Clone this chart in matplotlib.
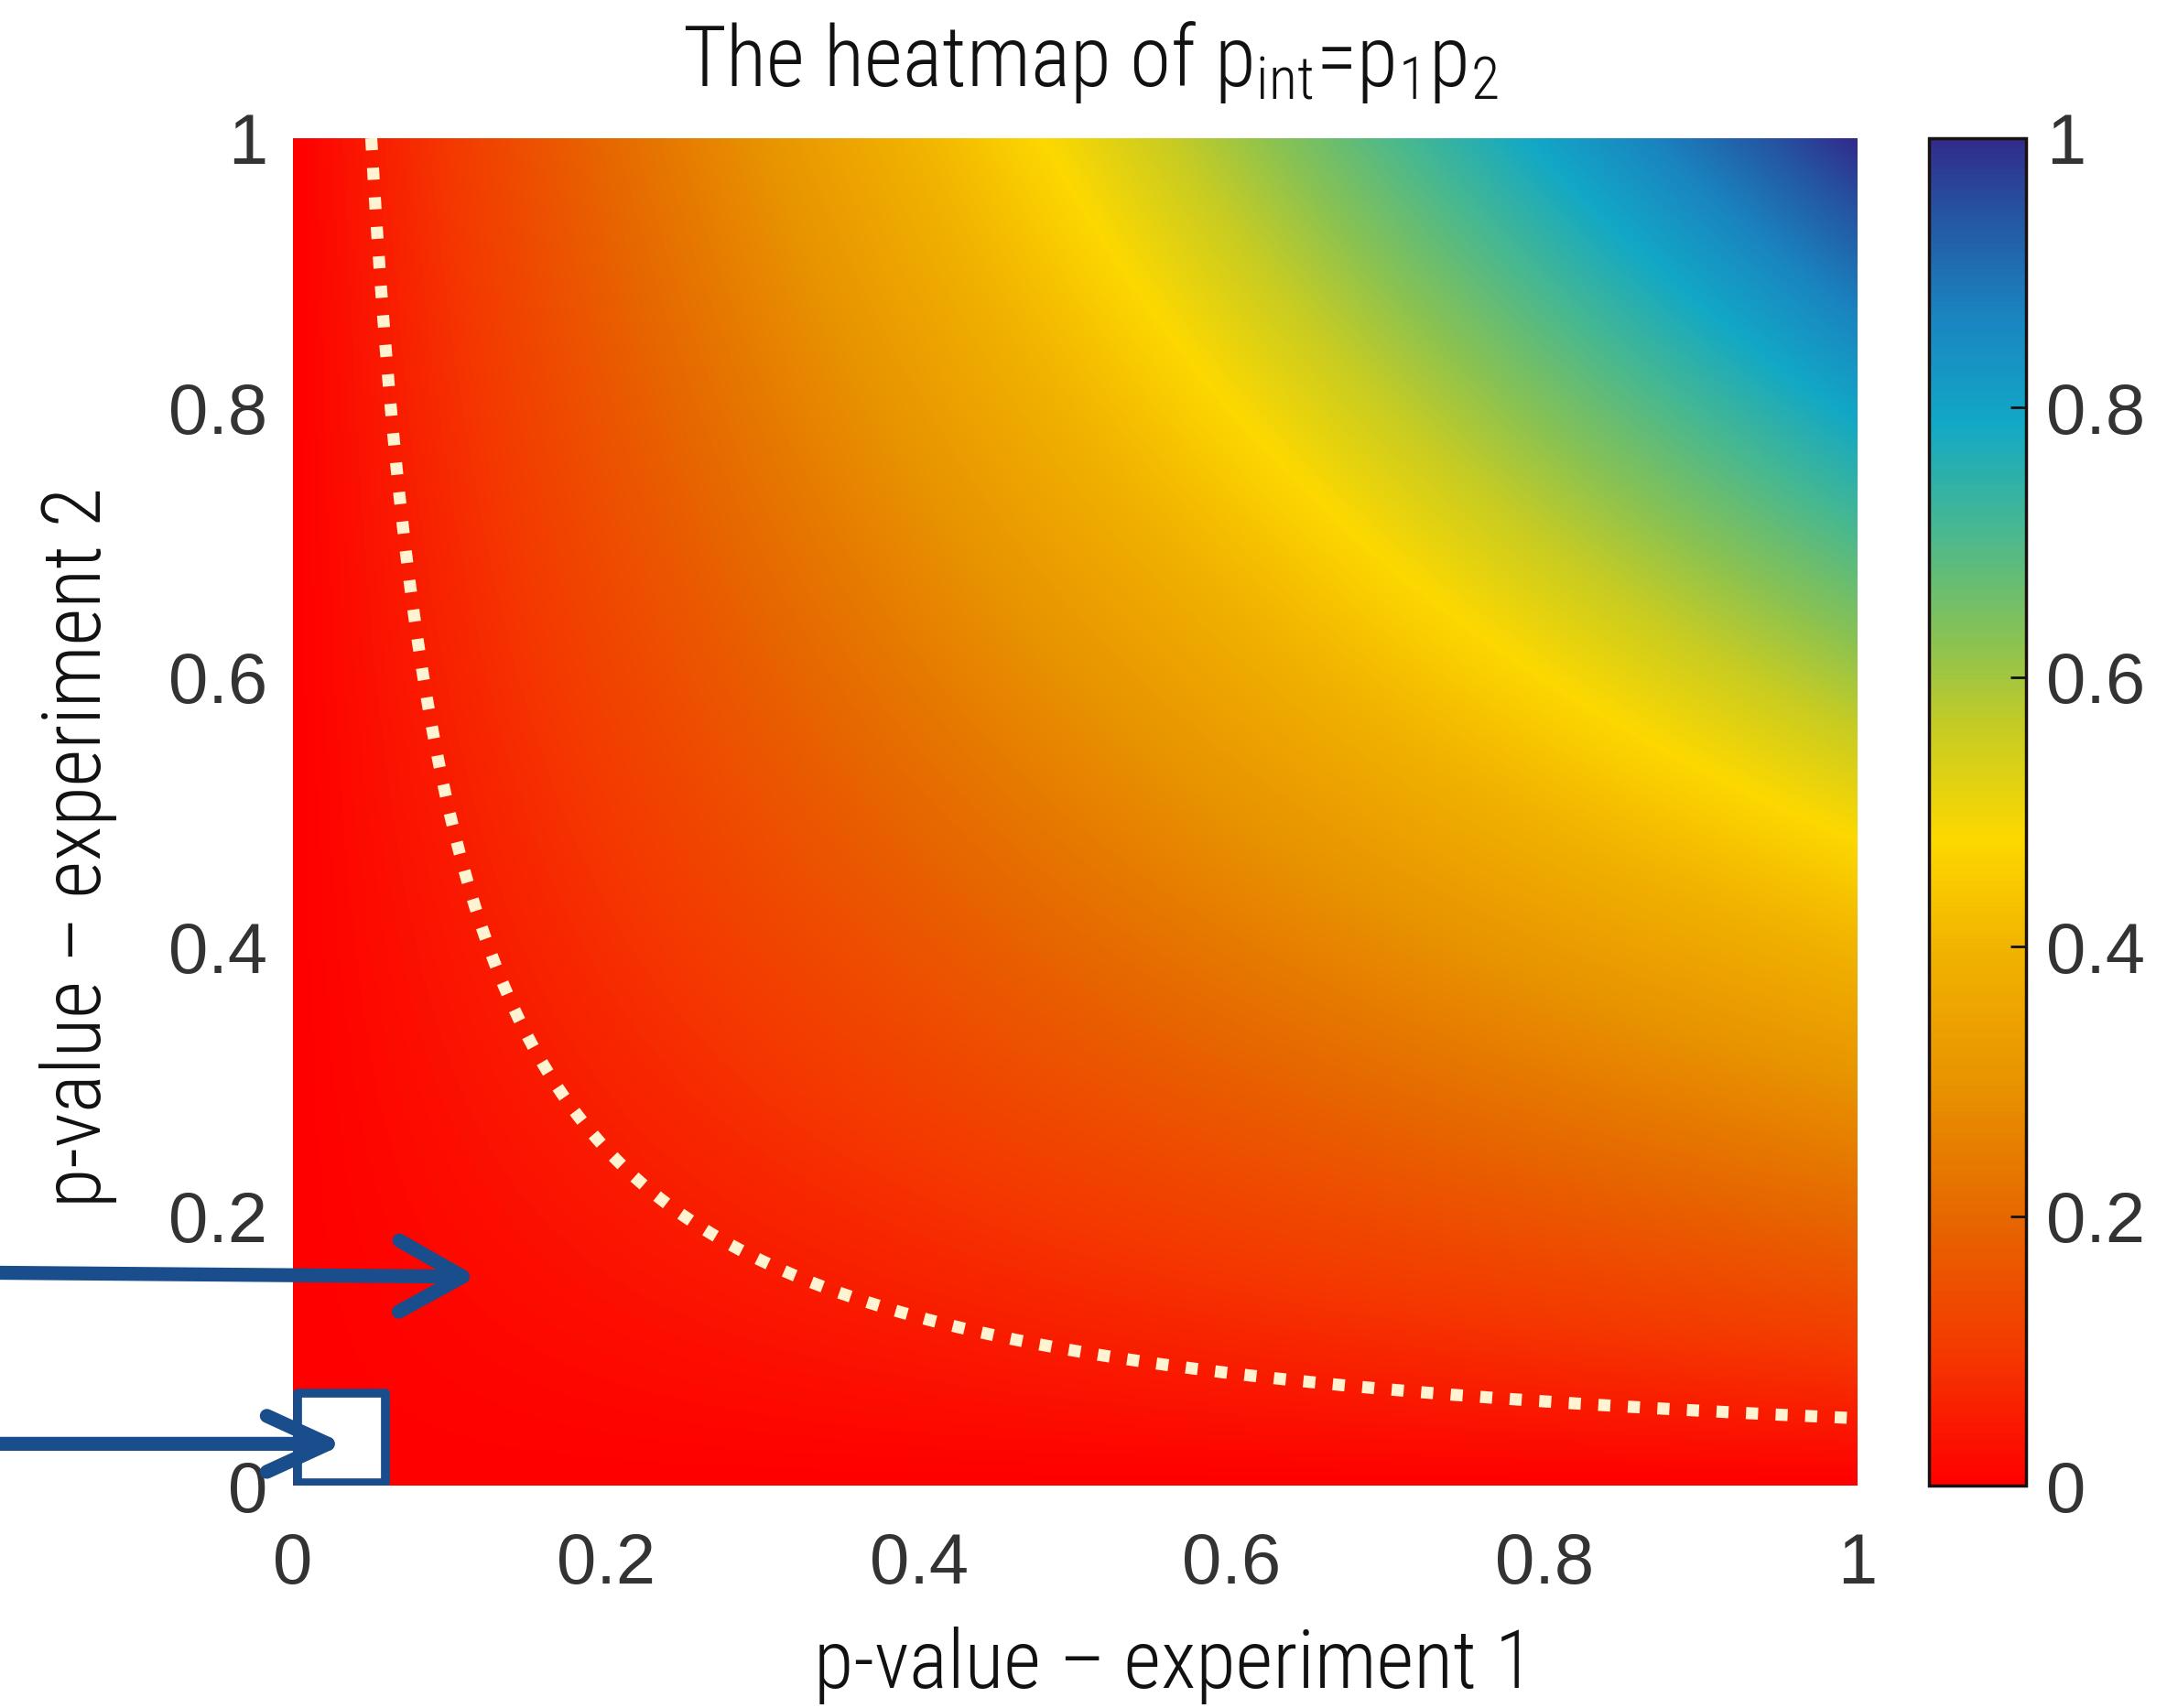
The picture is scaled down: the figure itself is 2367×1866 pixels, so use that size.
import numpy as np
import matplotlib
matplotlib.use("Agg")
import matplotlib.pyplot as plt
from matplotlib import font_manager as fm
from matplotlib.colors import LinearSegmentedColormap
from matplotlib.patches import Rectangle

# ---------------- data ----------------
p1 = np.linspace(0, 1, 601)          # p-value experiment 1 axis
p2 = np.linspace(0, 1, 601)          # p-value experiment 2 axis
alpha = 0.05                          # significance threshold for the dotted contour
x_ticks = [0, 0.2, 0.4, 0.6, 0.8, 1]
x_tick_labels = ["0", "0.2", "0.4", "0.6", "0.8", "1"]
y_ticks = [0, 0.2, 0.4, 0.6, 0.8, 1]
y_tick_labels = ["0", "0.2", "0.4", "0.6", "0.8", "1"]
cbar_ticks = [0, 0.2, 0.4, 0.6, 0.8, 1]
cbar_tick_labels = ["0", "0.2", "0.4", "0.6", "0.8", "1"]
# highlighted square region (p1, p2 both small)
square_x = [0.003, 0.059]
square_y = [0.002, 0.0686]
# arrows: tail -> tip in data coordinates
arrow1_tail = (-0.19, 0.158)
arrow1_tip = (0.1176, 0.155)
arrow2_tail = (-0.19, 0.031)
arrow2_tip = (0.033, 0.031)

P1, P2 = np.meshgrid(p1, p2)
Z = P1 * P2

# ---------------- fonts ----------------
names = {f.name for f in fm.fontManager.ttflist}
cond_prop = None
for cand in ["Roboto Condensed", "Liberation Sans Narrow", "Open Sans Condensed", "Noto Sans Condensed"]:
    if cand in names:
        cond_prop = dict(family=cand)
        light = any(f.name == cand and f.weight in (300, "light") for f in fm.fontManager.ttflist)
        if light:
            cond_prop["weight"] = "light"
        break
if cond_prop is None:
    cond_prop = dict(family="DejaVu Sans", stretch="condensed")
tick_family = "Liberation Sans" if "Liberation Sans" in names else "DejaVu Sans"

# ---------------- colormap ----------------
cmap = LinearSegmentedColormap.from_list("pint", [
    (0.00, "#ff0000"),
    (0.10, "#f43a00"),
    (0.20, "#e66800"),
    (0.30, "#e89400"),
    (0.40, "#f2b400"),
    (0.48, "#fdd800"),
    (0.56, "#c8cc22"),
    (0.63, "#88c254"),
    (0.71, "#48b890"),
    (0.79, "#12a8c6"),
    (0.87, "#1a84c0"),
    (0.94, "#2458a4"),
    (1.00, "#312c8c"),
])

fig = plt.figure(figsize=(23.67, 18.66), dpi=100)
ax = fig.add_axes([0.1352, 0.1302, 0.7220, 0.7889])
cax = fig.add_axes([0.8903, 0.1302, 0.0447, 0.7889])

im = ax.imshow(Z, origin="lower", extent=[0, 1, 0, 1], cmap=cmap, vmin=0, vmax=1,
               aspect="auto", interpolation="bilinear")

# dotted threshold contour
cs = ax.contour(P1, P2, Z, levels=[alpha], colors="none")
for seg in cs.allsegs[0]:
    if len(seg) > 1:
        ax.plot(seg[:, 0], seg[:, 1], color="#fff3d2", lw=9.5, dashes=(1.0, 1.45),
                dash_capstyle="butt", solid_capstyle="butt")

ax.set_xlim(0, 1)
ax.set_ylim(0, 1)
for s in ax.spines.values():
    s.set_visible(False)
ax.set_xticks(x_ticks)
ax.set_xticklabels(x_tick_labels)
ax.set_yticks(y_ticks)
ax.set_yticklabels(y_tick_labels)
ax.tick_params(length=0, labelsize=56, labelcolor="#333333", pad=0)
ax.tick_params(axis="x", pad=36)
ax.tick_params(axis="y", pad=20)
for lab in ax.get_xticklabels() + ax.get_yticklabels():
    lab.set_family(tick_family)

# highlighted square
blue = "#1a4d8c"
ax.add_patch(Rectangle((square_x[0], square_y[0]), square_x[1] - square_x[0], square_y[1] - square_y[0],
                       facecolor="white", edgecolor=blue, lw=7, joinstyle="round", zorder=5))

# arrows
for tail, tip, hl, hw in [(arrow1_tail, arrow1_tip, 50, 28), (arrow2_tail, arrow2_tip, 48, 22)]:
    ax.annotate("", xy=tip, xytext=tail, xycoords="data", textcoords="data",
                annotation_clip=False,
                arrowprops=dict(arrowstyle=f"->,head_length={hl/10:.2f},head_width={hw/10:.2f}",
                                color=blue, lw=11, capstyle="round", joinstyle="round",
                                shrinkA=0, shrinkB=0),
                zorder=6)

# colorbar
cb = fig.colorbar(im, cax=cax)
cb.set_ticks(cbar_ticks)
cb.set_ticklabels(cbar_tick_labels)
cb.outline.set_linewidth(2.5)
cb.outline.set_edgecolor("#1a1010")
cax.tick_params(direction="in", length=12, width=2, color="#111111", labelsize=56,
                labelcolor="#333333", pad=16)
for lab in cax.get_yticklabels():
    lab.set_family(tick_family)

# title and labels
fig.text(0.503, 0.9498, r"The heatmap of $\mathregular{p_{int}}$=$\mathregular{p_1p_2}$",
         ha="center", va="baseline", fontsize=66, color="#111111", **cond_prop)
fig.text(0.542, 0.012, "p-value – experiment 1", ha="center", va="baseline",
         fontsize=64, color="#111111", **cond_prop)
fig.text(0.036, 0.504, "p-value – experiment 2", ha="center", va="center", rotation=90,
         fontsize=64, color="#111111", **cond_prop)

fig.savefig("out.png", dpi=100, facecolor="white")
